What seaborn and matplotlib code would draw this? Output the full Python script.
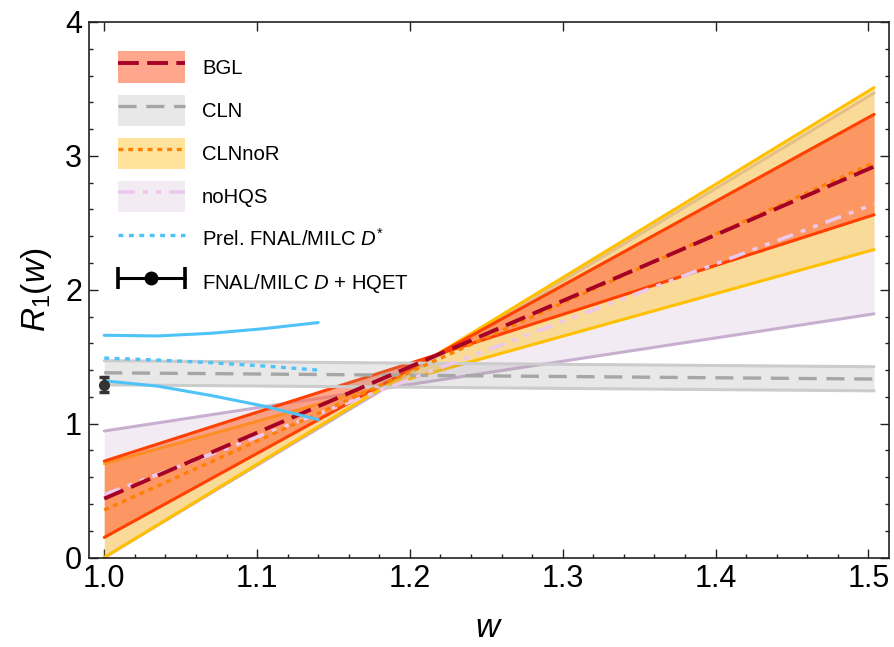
import numpy as np
import pandas as pd
import matplotlib
matplotlib.use("Agg")
import matplotlib.pyplot as plt
import seaborn as sns
from matplotlib.patches import Patch
from matplotlib.lines import Line2D
from matplotlib.legend_handler import HandlerLine2D
from matplotlib.ticker import MultipleLocator, FormatStrFormatter

# ---------------------------------------------------------------------------
# Dados (R1(w) para B -> D*)
# ---------------------------------------------------------------------------
W_BAND = [1.0, 1.5037]

BGL_EDGE_A = [0.72, 2.56]
BGL_EDGE_B = [0.15, 3.31]
BGL_CENTRAL = [0.44, 2.92]

CLN_EDGE_A = [1.47, 1.425]
CLN_EDGE_B = [1.29, 1.245]
CLN_CENTRAL = [1.38, 1.333]

CLNNOR_EDGE_A = [0.70, 2.30]
CLNNOR_EDGE_B = [0.0, 3.51]
CLNNOR_CENTRAL = [0.355, 2.95]

NOHQS_EDGE_A = [0.945, 1.82]
NOHQS_EDGE_B = [0.0, 3.47]
NOHQS_CENTRAL = [0.47, 2.64]

# Lattice preliminar FNAL/MILC D*
LAT_W = [1.0, 1.035, 1.07, 1.105, 1.14]
LAT_UPPER = [1.66, 1.655, 1.675, 1.71, 1.755]
LAT_CENTRAL = [1.49, 1.475, 1.455, 1.43, 1.40]
LAT_LOWER = [1.32, 1.28, 1.21, 1.13, 1.03]

# FNAL/MILC D + HQET
POINT_W = [1.0]
POINT_R1 = [1.29]
POINT_ERR = [0.055]

LABELS = ["BGL", "CLN", "CLNnoR", "noHQS",
          "Prel. FNAL/MILC $D^{*}$", "FNAL/MILC $D$ + HQET"]

# cores
C_BGL_FILL, C_BGL_EDGE, C_BGL_LINE = (1.0, 0.42, 0.25), "#ff4000", "#a50026"
C_CLN_FILL, C_CLN_EDGE, C_CLN_LINE = (0.6, 0.6, 0.6), "#cccccc", "#a6a6a6"
C_NOR_FILL, C_NOR_EDGE, C_NOR_LINE = (1.0, 0.80, 0.30), "#ffc000", "#ff7f00"
C_HQS_FILL, C_HQS_EDGE, C_HQS_LINE = (0.80, 0.70, 0.82), "#c9afcf", "#ecc8ec"
C_LAT = "#4fc3f7"

A_BGL, A_CLN, A_NOR, A_HQS = 0.6, 0.22, 0.55, 0.25

DASH_BGL = (0, (15, 6))
DASH_CLN = (0, (13, 7))
DOT_NOR = (0, (3.5, 3.5))
DASHDOT_HQS = (0, (12, 6, 3.5, 6, 3.5, 6))
DOT_LAT = (0, (3.5, 4.0))

sns.set_theme(style="ticks")
plt.rcParams["font.family"] = ["Liberation Sans", "DejaVu Sans"]
plt.rcParams["mathtext.fontset"] = "custom"
plt.rcParams["mathtext.rm"] = "Liberation Sans"
plt.rcParams["mathtext.it"] = "Liberation Sans:italic"
plt.rcParams["lines.scale_dashes"] = False
for key in ("text.color", "axes.labelcolor", "xtick.color", "ytick.color"):
    plt.rcParams[key] = "black"

fig = plt.figure(figsize=(8.95, 6.47), dpi=100)
ax = fig.add_axes([0.0994, 0.1383, 0.8939, 0.8277])


def draw_band(edge_a, edge_b, fill, alpha, edge_color, z):
    ax.fill_between(W_BAND, edge_a, edge_b, color=fill, alpha=alpha,
                    linewidth=0, zorder=z)
    for edge in (edge_a, edge_b):
        sns.lineplot(x=W_BAND, y=edge, color=edge_color, lw=2.2, ax=ax,
                     legend=False, zorder=z + 0.5)


draw_band(NOHQS_EDGE_A, NOHQS_EDGE_B, C_HQS_FILL, A_HQS, C_HQS_EDGE, 1)
draw_band(CLNNOR_EDGE_A, CLNNOR_EDGE_B, C_NOR_FILL, A_NOR, C_NOR_EDGE, 2)
draw_band(BGL_EDGE_A, BGL_EDGE_B, C_BGL_FILL, A_BGL, C_BGL_EDGE, 3)
draw_band(CLN_EDGE_A, CLN_EDGE_B, C_CLN_FILL, A_CLN, C_CLN_EDGE, 4)

# linhas centrais
sns.lineplot(x=W_BAND, y=CLN_CENTRAL, color=C_CLN_LINE, lw=2.4,
             linestyle=DASH_CLN, ax=ax, legend=False, zorder=6)
sns.lineplot(x=W_BAND, y=NOHQS_CENTRAL, color=C_HQS_LINE, lw=2.6,
             linestyle=DASHDOT_HQS, ax=ax, legend=False, zorder=6)
sns.lineplot(x=W_BAND, y=CLNNOR_CENTRAL, color=C_NOR_LINE, lw=2.4,
             linestyle=DOT_NOR, ax=ax, legend=False, zorder=6)
sns.lineplot(x=W_BAND, y=BGL_CENTRAL, color=C_BGL_LINE, lw=2.8,
             linestyle=DASH_BGL, ax=ax, legend=False, zorder=7)

# lattice D*
lat = pd.DataFrame({"w": LAT_W, "up": LAT_UPPER, "mid": LAT_CENTRAL,
                    "lo": LAT_LOWER})
sns.lineplot(data=lat, x="w", y="up", color=C_LAT, lw=2.2, ax=ax,
             legend=False, zorder=8)
sns.lineplot(data=lat, x="w", y="lo", color=C_LAT, lw=2.2, ax=ax,
             legend=False, zorder=8)
sns.lineplot(data=lat, x="w", y="mid", color=C_LAT, lw=2.4,
             linestyle=DOT_LAT, ax=ax, legend=False, zorder=8)

ax.errorbar(POINT_W, POINT_R1, yerr=POINT_ERR, fmt="o", color="#333333",
            ms=7, elinewidth=2.5, capsize=3.5, capthick=2.5, zorder=9,
            clip_on=False)

# eixos
ax.set_xlim(0.99, 1.5135)
ax.set_ylim(0, 4)
ax.xaxis.set_major_locator(MultipleLocator(0.1))
ax.xaxis.set_minor_locator(MultipleLocator(0.02))
ax.yaxis.set_major_locator(MultipleLocator(1))
ax.yaxis.set_minor_locator(MultipleLocator(0.2))
ax.xaxis.set_major_formatter(FormatStrFormatter("%.1f"))
ax.tick_params(which="both", direction="in", top=True, right=True,
               color="#222222", width=1.0, labelsize=22, pad=5)
ax.tick_params(which="major", length=6.5)
ax.tick_params(which="minor", length=3.2, top=False)
for sp in ax.spines.values():
    sp.set_linewidth(1.2)
    sp.set_color("#222222")

ax.set_xlabel("$w$", fontsize=24, labelpad=13)
ax.set_ylabel("$R_1(w)$", fontsize=24, labelpad=8)

# legenda
h_bgl = (Patch(facecolor=C_BGL_FILL, alpha=A_BGL, lw=0),
         Line2D([], [], color=C_BGL_LINE, lw=2.8, ls=DASH_BGL))
h_cln = (Patch(facecolor=C_CLN_FILL, alpha=A_CLN, lw=0),
         Line2D([], [], color=C_CLN_LINE, lw=2.4, ls=DASH_CLN))
h_nor = (Patch(facecolor=C_NOR_FILL, alpha=A_NOR, lw=0),
         Line2D([], [], color=C_NOR_LINE, lw=2.4, ls=DOT_NOR))
h_hqs = (Patch(facecolor=C_HQS_FILL, alpha=A_HQS, lw=0),
         Line2D([], [], color=C_HQS_LINE, lw=2.6, ls=DASHDOT_HQS))
h_lat = Line2D([], [], color=C_LAT, lw=2.4, ls=DOT_LAT)
pt_line = Line2D([], [], color="black", lw=2.2, marker="o", ms=9)
pt_caps = Line2D([], [], color="black", ls="none", marker="|", ms=16, mew=2.6)
h_pt = (pt_line, pt_caps)

ax.legend([h_bgl, h_cln, h_nor, h_hqs, h_lat, h_pt], LABELS,
          loc="upper left", bbox_to_anchor=(0.036, 0.945), frameon=False,
          fontsize=14.6, handlelength=3.3, handleheight=2.0,
          labelspacing=0.58, handletextpad=0.85, borderpad=0, borderaxespad=0,
          handler_map={pt_line: HandlerLine2D(numpoints=1),
                       pt_caps: HandlerLine2D(numpoints=2, marker_pad=0)})

fig.savefig("out.png", dpi=100)
